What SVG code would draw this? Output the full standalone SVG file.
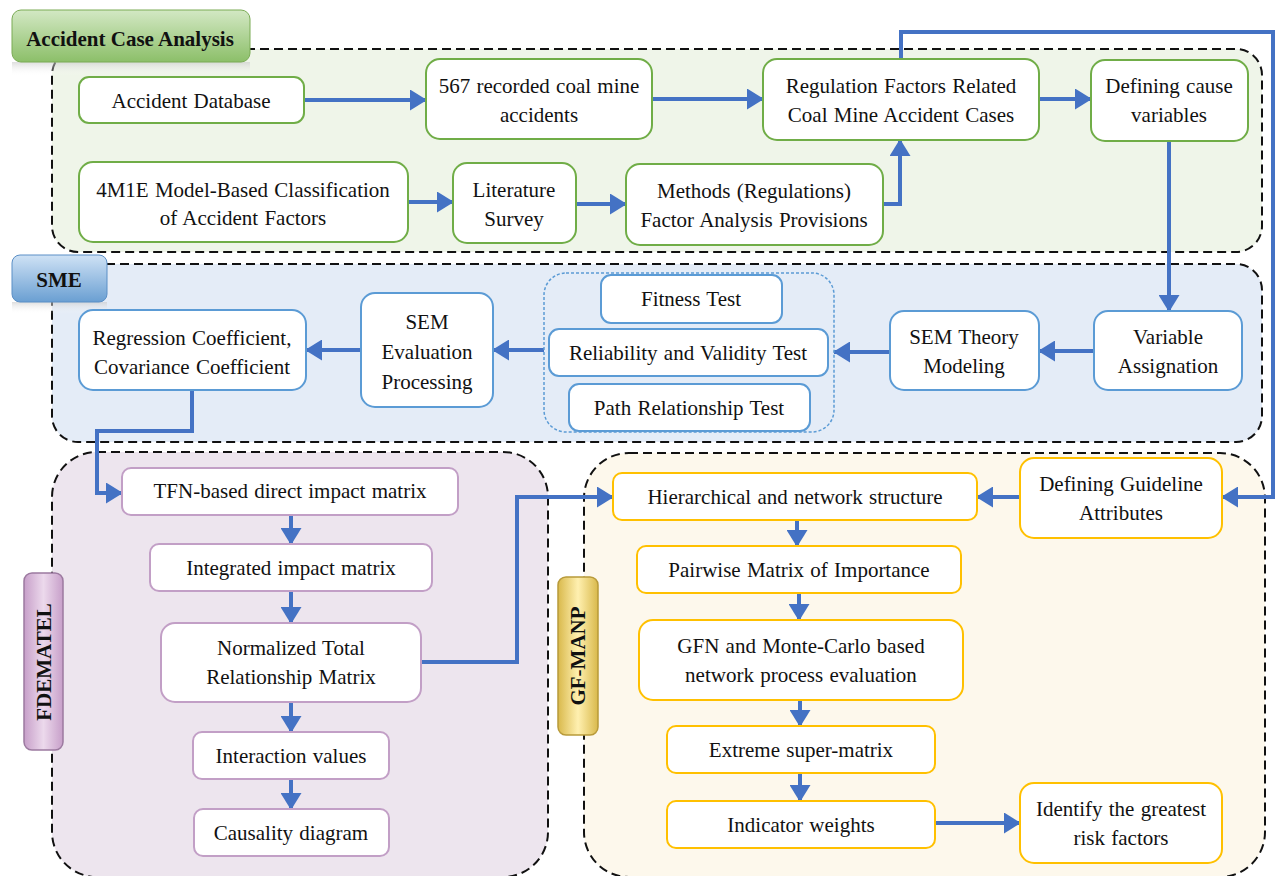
<svg xmlns="http://www.w3.org/2000/svg" width="1279" height="876" viewBox="0 0 1279 876">
<defs>
<style>
text{font-family:"Liberation Serif","Times New Roman",serif;font-size:21px;fill:#111;text-anchor:middle;word-spacing:1px}
.lbl{font-weight:bold;font-size:21px;word-spacing:0}
.cont{stroke:#111;stroke-width:2;stroke-dasharray:9 5}
.ng{fill:#fff;stroke:#70ad47;stroke-width:2}
.nb{fill:#fff;stroke:#5b9bd5;stroke-width:2}
.np{fill:#fff;stroke:#c29fc6;stroke-width:2}
.ny{fill:#fff;stroke:#ffc000;stroke-width:2}
.conn path{fill:none;stroke:#4472c4;stroke-width:4;marker-end:url(#ah)}
</style>
<marker id="ah" markerUnits="userSpaceOnUse" viewBox="0 0 17 21" refX="16" refY="10.5" markerWidth="17" markerHeight="21" orient="auto">
<path d="M0,0 L17,10.5 L0,21 z" fill="#4472c4"/>
</marker>
<linearGradient id="gG" x1="0" y1="0" x2="0" y2="1"><stop offset="0" stop-color="#d3e8c4"/><stop offset="1" stop-color="#8cbf69"/></linearGradient>
<linearGradient id="gB" x1="0" y1="0" x2="0" y2="1"><stop offset="0" stop-color="#cfe2f5"/><stop offset="1" stop-color="#6a9fd2"/></linearGradient>
<linearGradient id="gP" x1="0" y1="0" x2="1" y2="0"><stop offset="0" stop-color="#c79fc9"/><stop offset="0.5" stop-color="#ecd9ec"/><stop offset="1" stop-color="#c79fc9"/></linearGradient>
<linearGradient id="gY" x1="0" y1="0" x2="1" y2="0"><stop offset="0" stop-color="#d9b94c"/><stop offset="0.5" stop-color="#fff0b0"/><stop offset="1" stop-color="#d9b94c"/></linearGradient>
<linearGradient id="refl" x1="0" y1="0" x2="0" y2="1"><stop offset="0" stop-color="#c8c8c8" stop-opacity="0.6"/><stop offset="1" stop-color="#ffffff" stop-opacity="0"/></linearGradient>
</defs>

<!-- containers -->
<g id="container-aca"><rect class="cont" x="52" y="49" width="1210" height="203" rx="26" fill="#eff5e9"/></g>
<g id="container-sme"><rect class="cont" x="52" y="264" width="1210" height="178" rx="26" fill="#e4ecf7"/></g>
<g id="container-fdematel"><rect class="cont" x="52" y="452" width="496" height="425" rx="45" fill="#ede5ee"/></g>
<g id="container-gfmanp"><rect class="cont" x="584" y="453" width="681" height="424" rx="45" fill="#fdf8ec"/></g>

<!-- section labels -->
<g id="label-aca">
<rect x="12" y="62" width="238" height="14" fill="url(#refl)"/>
<rect x="12" y="10" width="238" height="52" rx="9" fill="url(#gG)" stroke="#7aab55" stroke-width="1"/>
<text class="lbl" x="130" y="46">Accident Case Analysis</text>
</g>
<g id="label-sme">
<rect x="12" y="302" width="95" height="12" fill="url(#refl)"/>
<rect x="12" y="255" width="95" height="47" rx="8" fill="url(#gB)" stroke="#5b8fc6" stroke-width="1"/>
<text class="lbl" x="59" y="287">SME</text>
</g>
<g id="label-fdematel">
<rect x="24" y="573" width="39" height="177" rx="8" fill="url(#gP)" stroke="#9c7aa0" stroke-width="1.5"/>
<text class="lbl" transform="translate(51,662) rotate(-90)" x="0" y="0">FDEMATEL</text>
</g>
<g id="label-gfmanp">
<rect x="558" y="577" width="40" height="158" rx="8" fill="url(#gY)" stroke="#b89a3a" stroke-width="1.5"/>
<text class="lbl" transform="translate(585,656) rotate(-90)" x="0" y="0">GF-MANP</text>
</g>

<!-- connectors -->
<g id="connectors" class="conn">
<path d="M304,100 H426"/>
<path d="M652,99 H763"/>
<path d="M1039,99 H1091"/>
<path d="M408,202 H453"/>
<path d="M576,204 H626"/>
<path d="M883,204 H900 V140"/>
<path d="M901,59 V32 H1273 V497 H1222"/>
<path d="M1169,141 V311"/>
<path d="M1094,351 H1039"/>
<path d="M890,352 H834"/>
<path d="M544,350 H493"/>
<path d="M361,350 H306"/>
<path d="M192,390 V431 H97 V493 H122"/>
<path d="M291,515 V544"/>
<path d="M291,591 V623"/>
<path d="M291,702 V732"/>
<path d="M291,779 V809"/>
<path d="M421,662 H517 V497 H613"/>
<path d="M1020,497 H977"/>
<path d="M797,520 V546"/>
<path d="M799,593 V620"/>
<path d="M800,700 V726"/>
<path d="M800,773 V801"/>
<path d="M935,823 H1020"/>
</g>

<!-- Accident Case Analysis nodes -->
<g id="n-accident-database"><rect class="ng" x="79" y="77" width="225" height="46" rx="10"/><text x="191" y="108">Accident Database</text></g>
<g id="n-567"><rect class="ng" x="426" y="59" width="226" height="80" rx="14"/><text x="539" y="93">567 recorded coal mine</text><text x="539" y="122">accidents</text></g>
<g id="n-regulation"><rect class="ng" x="763" y="59" width="276" height="81" rx="14"/><text x="901" y="93">Regulation Factors Related</text><text x="901" y="122">Coal Mine Accident Cases</text></g>
<g id="n-defining-cause"><rect class="ng" x="1091" y="60" width="157" height="81" rx="14"/><text x="1169" y="93">Defining cause</text><text x="1169" y="122">variables</text></g>
<g id="n-4m1e"><rect class="ng" x="79" y="162" width="329" height="80" rx="14"/><text x="243" y="197">4M1E Model-Based Classification</text><text x="243" y="225">of Accident Factors</text></g>
<g id="n-literature"><rect class="ng" x="453" y="163" width="123" height="80" rx="14"/><text x="514" y="197">Literature</text><text x="514" y="226">Survey</text></g>
<g id="n-methods"><rect class="ng" x="626" y="164" width="257" height="81" rx="14"/><text x="754" y="198">Methods (Regulations)</text><text x="754" y="227">Factor Analysis Provisions</text></g>

<!-- SME nodes -->
<g id="n-regression"><rect class="nb" x="79" y="310" width="227" height="80" rx="14"/><text x="192" y="345">Regression Coefficient,</text><text x="192" y="374">Covariance Coefficient</text></g>
<g id="n-sem-eval"><rect class="nb" x="361" y="293" width="132" height="114" rx="14"/><text x="427" y="329">SEM</text><text x="427" y="359">Evaluation</text><text x="427" y="389">Processing</text></g>
<g id="n-tests">
<rect x="544" y="273" width="290" height="159" rx="22" fill="none" stroke="#5b9bd5" stroke-width="1.5" stroke-dasharray="3 2"/>
<g id="n-fitness"><rect class="nb" x="601" y="275" width="181" height="48" rx="10"/><text x="691" y="306">Fitness Test</text></g>
<g id="n-reliability"><rect class="nb" x="549" y="329" width="279" height="47" rx="10"/><text x="688" y="360">Reliability and Validity Test</text></g>
<g id="n-path"><rect class="nb" x="569" y="384" width="241" height="47" rx="10"/><text x="689" y="415">Path Relationship Test</text></g>
</g>
<g id="n-sem-theory"><rect class="nb" x="890" y="311" width="149" height="79" rx="14"/><text x="964" y="344">SEM Theory</text><text x="964" y="373">Modeling</text></g>
<g id="n-variable"><rect class="nb" x="1094" y="311" width="148" height="79" rx="14"/><text x="1168" y="344">Variable</text><text x="1168" y="373">Assignation</text></g>

<!-- FDEMATEL nodes -->
<g id="n-tfn"><rect class="np" x="122" y="468" width="336" height="47" rx="9"/><text x="290" y="498">TFN-based direct impact matrix</text></g>
<g id="n-integrated"><rect class="np" x="150" y="544" width="282" height="47" rx="9"/><text x="291" y="575">Integrated impact matrix</text></g>
<g id="n-normalized"><rect class="np" x="161" y="623" width="260" height="79" rx="14"/><text x="291" y="655">Normalized Total</text><text x="291" y="684">Relationship Matrix</text></g>
<g id="n-interaction"><rect class="np" x="193" y="732" width="196" height="47" rx="9"/><text x="291" y="763">Interaction values</text></g>
<g id="n-causality"><rect class="np" x="194" y="809" width="195" height="47" rx="9"/><text x="291" y="840">Causality diagram</text></g>

<!-- GF-MANP nodes -->
<g id="n-hierarchical"><rect class="ny" x="613" y="473" width="364" height="47" rx="9"/><text x="795" y="504">Hierarchical and network structure</text></g>
<g id="n-guideline"><rect class="ny" x="1020" y="458" width="202" height="80" rx="14"/><text x="1121" y="491">Defining Guideline</text><text x="1121" y="520">Attributes</text></g>
<g id="n-pairwise"><rect class="ny" x="637" y="546" width="324" height="47" rx="9"/><text x="799" y="577">Pairwise Matrix of Importance</text></g>
<g id="n-gfn"><rect class="ny" x="639" y="620" width="324" height="80" rx="14"/><text x="801" y="653">GFN and Monte-Carlo based</text><text x="801" y="682">network process evaluation</text></g>
<g id="n-extreme"><rect class="ny" x="667" y="726" width="268" height="47" rx="9"/><text x="801" y="757">Extreme super-matrix</text></g>
<g id="n-indicator"><rect class="ny" x="667" y="801" width="268" height="47" rx="9"/><text x="801" y="832">Indicator weights</text></g>
<g id="n-identify"><rect class="ny" x="1020" y="783" width="202" height="80" rx="14"/><text x="1121" y="816">Identify the greatest</text><text x="1121" y="845">risk factors</text></g>
</svg>
